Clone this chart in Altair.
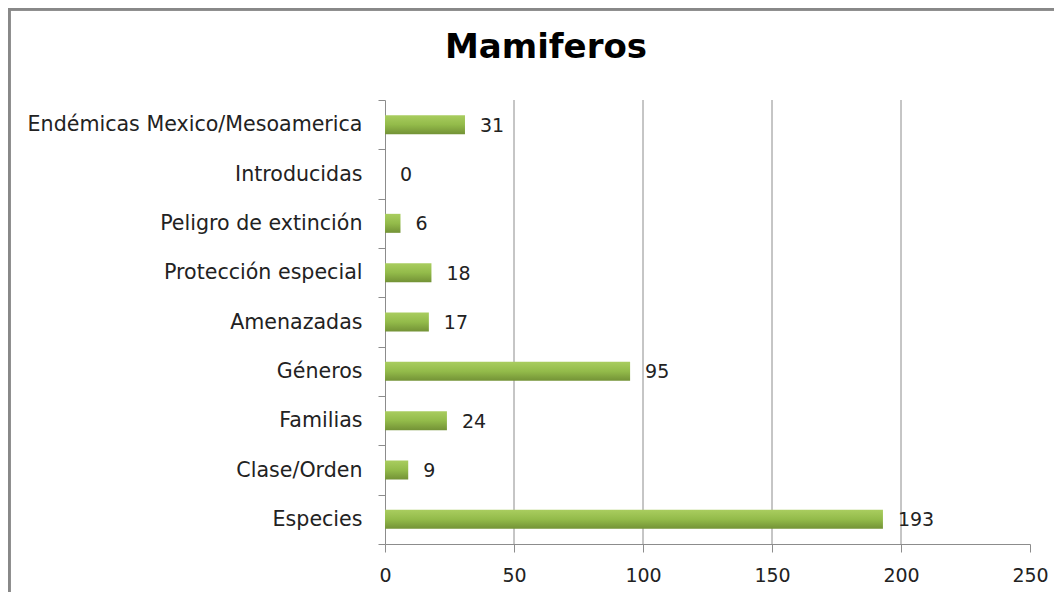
import altair as alt
import pandas as pd

categories = ["Endémicas Mexico/Mesoamerica", "Introducidas", "Peligro de extinción",
              "Protección especial", "Amenazadas", "Géneros ", "Familias",
              "Clase/Orden", "Especies"]
values = [31, 0, 6, 18, 17, 95, 24, 9, 193]
x_ticks = [0, 50, 100, 150, 200, 250]
grid_vals = [50, 100, 150, 200]
title_text = "Mamiferos"

df = pd.DataFrame({"cat": categories, "val": values})
grid_df = pd.DataFrame({"g": grid_vals})
title_df = pd.DataFrame({"t": [title_text]})

FONT = "DejaVu Sans"
GRAY = "#8c8c8c"

xscale = alt.Scale(domain=[0, 250], nice=False)
yscale = alt.Scale(domain=categories, paddingInner=0, paddingOuter=0)

xaxis = alt.Axis(values=x_ticks, title=None, grid=False, domainColor=GRAY,
                 tickColor=GRAY, tickSize=8, labelFont=FONT, labelFontSize=19,
                 labelColor="#222222", labelPadding=14, labelFlush=False)

grid = alt.Chart(grid_df).mark_rule(color=GRAY, strokeWidth=1).encode(
    x=alt.X("g:Q", scale=xscale, axis=xaxis)
)

green = alt.Gradient(
    gradient="linear",
    stops=[
        alt.GradientStop(color="#a9cd5f", offset=0),
        alt.GradientStop(color="#93bb4a", offset=0.5),
        alt.GradientStop(color="#739236", offset=1),
    ],
    x1=0, x2=0, y1=0, y2=1,
)

bars = alt.Chart(df).mark_bar(size=19, color=green).encode(
    x=alt.X("val:Q", scale=xscale, axis=xaxis),
    y=alt.Y("cat:N", scale=yscale, sort=categories,
            axis=alt.Axis(title=None, tickBand="extent", domainColor=GRAY, tickColor=GRAY,
                          tickSize=7, labelFont=FONT, labelFontSize=20.6,
                          labelColor="#222222", labelPadding=16, labelLimit=400)),
)

labels = alt.Chart(df).mark_text(align="left", baseline="middle", dx=15, dy=1,
                                 font=FONT, fontSize=19, color="#222222").encode(
    x=alt.X("val:Q", scale=xscale, axis=xaxis),
    y=alt.Y("cat:N", scale=yscale, sort=categories),
    text="val:Q",
)

title = alt.Chart(title_df).mark_text(align="center", baseline="alphabetic", font=FONT,
                                      fontSize=34, fontWeight="bold", color="#000000").encode(
    x=alt.value(161), y=alt.value(-42), text="t:N"
)

border = alt.Chart(df).mark_rect(fill=None, stroke="#888888", strokeWidth=2.5).encode(
    x=alt.value(-376), x2=alt.value(1000), y=alt.value(-91), y2=alt.value(800)
)

chart = alt.layer(grid, bars, labels, title, border).properties(
    width=645,
    height=444,
    padding={"left": 377, "top": 92, "right": 24, "bottom": 48},
    autosize=alt.AutoSizeParams(type="none"),
).configure(background="white").configure_view(stroke=None)

chart.save("out.html", embed_options={"renderer": "svg", "actions": False})
